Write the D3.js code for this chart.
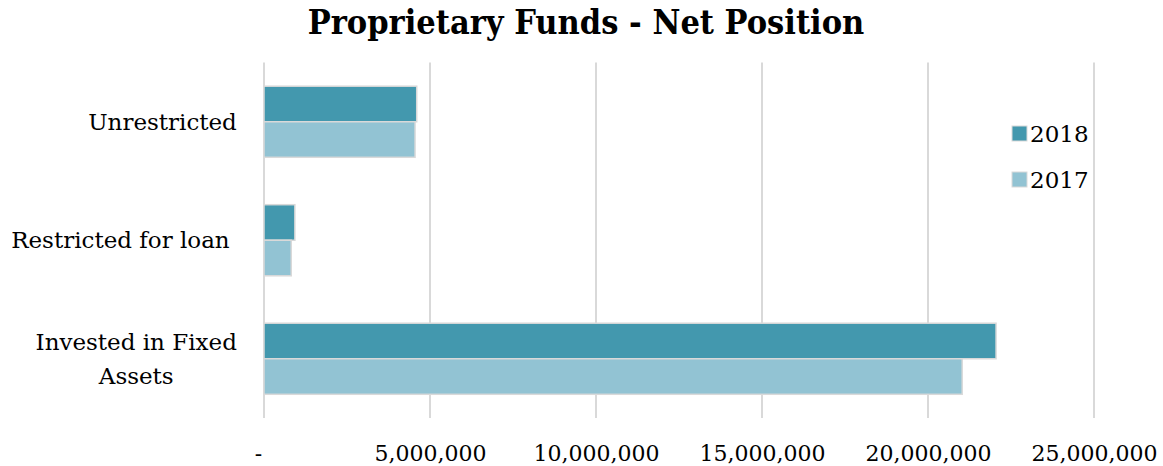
<!DOCTYPE html>
<html>
<head>
<meta charset="utf-8">
<script src="https://cdn.jsdelivr.net/npm/d3@7"></script>
<style>
  body { margin: 0; background: #fff; }
  text { font-family: "DejaVu Serif", serif; fill: #000; }
</style>
</head>
<body>
<div id="chart"></div>
<script>
const categories = ["Unrestricted", "Restricted for loan", "Invested in Fixed Assets"];
const labelLines = [["Unrestricted"], ["Restricted for loan "], ["Invested in Fixed", "Assets"]];
const years = ["2018", "2017"];
const values2018 = [4600000, 930000, 22050000];
const values2017 = [4550000, 820000, 21030000];
const xTicks = [0, 5000000, 10000000, 15000000, 20000000, 25000000];

const width = 1163,
    height = 466,
    margin = ({ top: 62.5, right: 69, bottom: 48, left: 264 });

const colors = { "2018": "#4398ae", "2017": "#92c3d3" };

const data = categories.map((c, i) => ({
    category: c,
    lines: labelLines[i],
    "2018": values2018[i],
    "2017": values2017[i]
}));

const svg = d3.select("#chart")
    .append("svg")
    .attr("width", width)
    .attr("height", height);

let x = d3.scaleLinear()
    .domain([0, 25000000])
    .range([margin.left, width - margin.right]);

let y = d3.scaleBand()
    .domain(categories)
    .range([margin.top, height - margin.bottom])
    .paddingInner(0.4)
    .paddingOuter(0.2);

let yInner = d3.scaleBand()
    .domain(years)
    .range([0, y.bandwidth()]);

// title
svg.append("text")
    .attr("x", 586)
    .attr("y", 34)
    .attr("text-anchor", "middle")
    .style("font-weight", "bold")
    .style("font-stretch", "condensed")
    .style("font-size", "34px")
    .text("Proprietary Funds - Net Position");

// gridlines
svg.append("g")
    .selectAll("line")
    .data(xTicks)
    .join("line")
    .attr("x1", d => x(d))
    .attr("x2", d => x(d))
    .attr("y1", margin.top)
    .attr("y2", height - margin.bottom)
    .attr("stroke", "#d9d9d9")
    .attr("stroke-width", 2);

// x axis labels
const xAxis = svg.append("g")
    .attr("transform", `translate(0,${height - margin.bottom})`)
    .call(d3.axisBottom(x)
        .tickValues(xTicks)
        .tickSize(0)
        .tickPadding(27)
        .tickFormat(d => d === 0 ? "-" : d3.format(",")(d)));
xAxis.select(".domain").remove();
xAxis.selectAll("text")
    .style("font-size", "22px")
    .style("font-family", "'DejaVu Serif', serif")
    .attr("fill", "#000")
    .attr("dx", d => d === 0 ? -6 : 0);

// bars
svg.append("g")
    .selectAll("g")
    .data(data)
    .join("g")
    .attr("transform", d => `translate(0,${y(d.category)})`)
    .selectAll("rect")
    .data(d => years.map(k => ({ key: k, value: d[k] })))
    .join("rect")
    .attr("x", x(0))
    .attr("y", d => yInner(d.key))
    .attr("width", d => x(d.value) - x(0))
    .attr("height", yInner.bandwidth())
    .attr("fill", d => colors[d.key])
    .attr("stroke", "#d9d9d9")
    .attr("stroke-width", 1.5);

// category labels (block right-aligned, lines centred in block)
const lineH = 33.5;
const labelRight = 237;
svg.append("g")
    .selectAll("text")
    .data(data)
    .join("text")
    .attr("text-anchor", "middle")
    .style("font-size", "23px")
    .style("white-space", "pre")
    .each(function(d) {
        const t = d3.select(this);
        const n = d.lines.length;
        const cy = y(d.category) + y.bandwidth() / 2;
        d.lines.forEach((ln, j) => {
            t.append("tspan")
                .attr("x", 0)
                .attr("y", cy + (j - (n - 1) / 2) * lineH)
                .attr("dy", "0.35em")
                .text(ln);
        });
        const w = this.getBBox().width;
        t.selectAll("tspan").attr("x", labelRight - w / 2);
    });

// legend
const legend = svg.append("g")
    .selectAll("g")
    .data(years)
    .join("g")
    .attr("transform", (d, i) => `translate(1012,${126 + i * 46})`);

legend.append("rect")
    .attr("width", 15)
    .attr("height", 15)
    .attr("fill", d => colors[d])
    .attr("stroke", "#d9d9d9")
    .attr("stroke-width", 1);

legend.append("text")
    .attr("x", 18)
    .attr("y", 7.5)
    .attr("dy", "0.35em")
    .style("font-size", "23px")
    .text(d => d);
</script>
</body>
</html>
